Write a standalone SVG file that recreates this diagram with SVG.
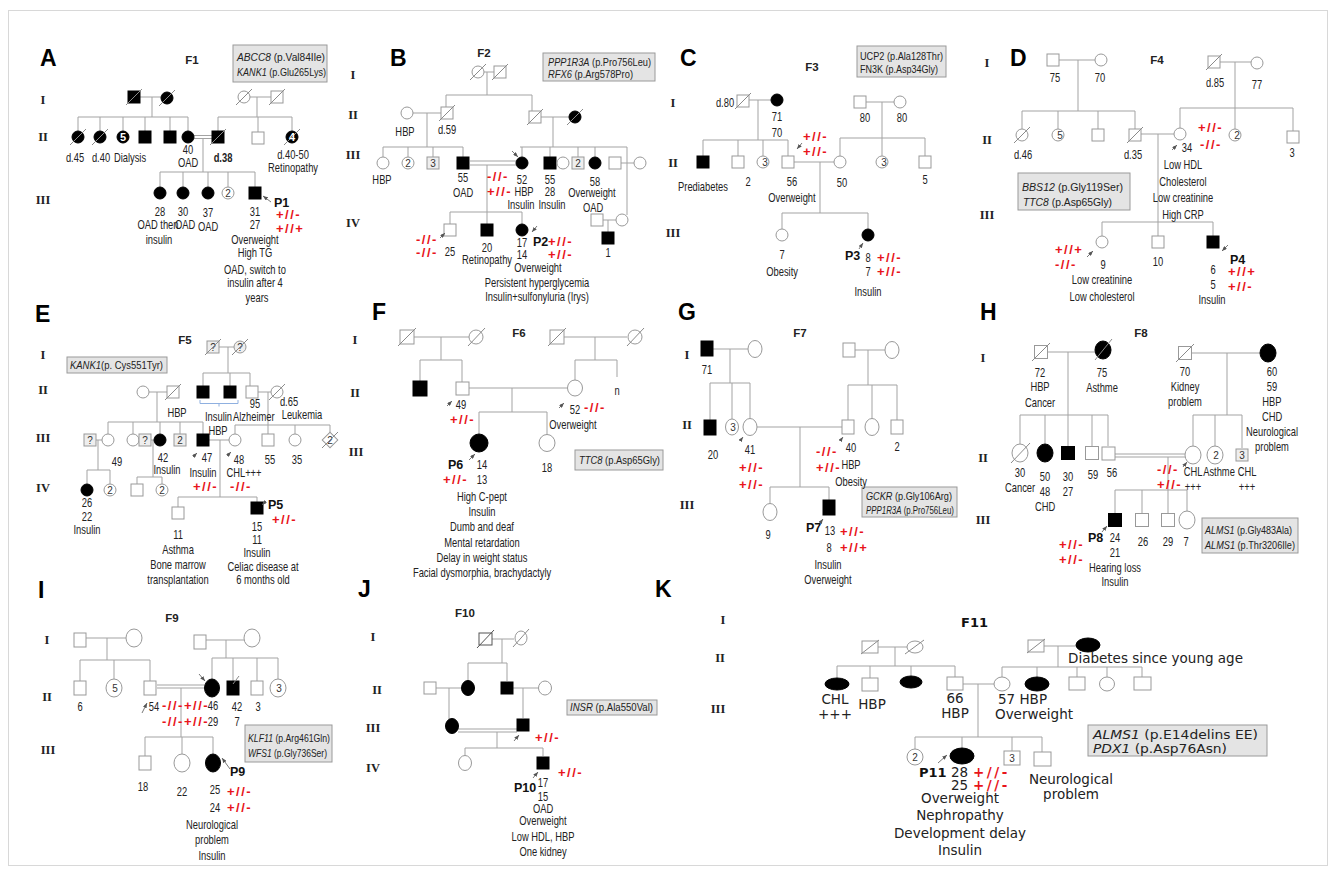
<svg xmlns="http://www.w3.org/2000/svg" width="1336" height="874" viewBox="0 0 1336 874">
<style>
.ln{stroke:#a3a3a3;stroke-width:1;fill:none}
.u{fill:#fff;stroke:#999;stroke-width:1}
.g{fill:#eee;stroke:#999;stroke-width:1}
.a{fill:#000;stroke:#000;stroke-width:1}
.d{stroke:#8a8a8a;stroke-width:1}
.t{font-family:"Liberation Sans",Arial,sans-serif;font-size:12px;fill:#222;text-anchor:middle;transform-box:fill-box;transform-origin:center;transform:scaleX(0.78)}
.ts{font-family:"Liberation Sans",Arial,sans-serif;font-size:12px;fill:#222;transform-box:fill-box;transform-origin:left center;transform:scaleX(0.78)}
.n{font-family:"Liberation Sans",Arial,sans-serif;font-size:10px;fill:#333;text-anchor:middle}
.nw{font-family:"Liberation Sans",Arial,sans-serif;font-size:11px;font-weight:bold;fill:#fff;text-anchor:middle}
.r{font-family:"Liberation Sans",Arial,sans-serif;font-size:13px;font-weight:bold;fill:#e8141a;letter-spacing:1.5px}
.p{font-family:"Liberation Sans",Arial,sans-serif;font-size:12.5px;font-weight:bold;fill:#111}
.gen{font-family:"Liberation Serif","Times New Roman",serif;font-weight:bold;font-size:12.5px;fill:#222;text-anchor:middle}
.pl{font-family:"Liberation Sans",Arial,sans-serif;font-weight:bold;font-size:23px;fill:#000}
.f{font-family:"Liberation Sans",Arial,sans-serif;font-weight:bold;font-size:11.5px;fill:#222;text-anchor:middle}
.box{fill:#e4e4e4;stroke:#9a9a9a;stroke-width:1}
.bt{font-family:"Liberation Sans",Arial,sans-serif;font-size:11px;fill:#222}
.it{font-style:italic}
.pa{stroke:#555;stroke-width:0.8;fill:none;marker-end:url(#ah)}
.tk{font-family:"DejaVu Sans",Verdana,sans-serif;font-size:13.5px;fill:#222}
.tkb{font-family:"DejaVu Sans",Verdana,sans-serif;font-size:12.5px;fill:#222}
.tkm{font-family:"DejaVu Sans",Verdana,sans-serif;font-size:13.5px;fill:#222;text-anchor:middle}
.rk{font-family:"DejaVu Sans",Verdana,sans-serif;font-size:13.5px;font-weight:bold;fill:#e8141a;letter-spacing:2.5px}
.pk{font-family:"DejaVu Sans",Verdana,sans-serif;font-size:13px;font-weight:bold;fill:#111}
</style>
<defs>
<marker id="ah" markerUnits="userSpaceOnUse" markerWidth="5" markerHeight="4" refX="5" refY="2" orient="auto"><path d="M0,0L5,2L0,4z" fill="#555"/></marker>
<rect id="sq" x="-6" y="-6" width="12" height="12"/>
<circle id="ci" r="6"/>
<line id="sl" x1="-8" y1="8" x2="8" y2="-8"/>
</defs>
<rect x="8.5" y="10.5" width="1319" height="855" fill="#fff" stroke="#d8d8d8"/>

<g id="connectors" class="ln">
<path id="A-links" d="M140 97H161M152 97V117M78 117H188M78 117V131M100 117V131M123 117V131M145 117V131M170 117V131M188 117V131M194 135.5H212M194 138.5H212M250 97H271M257 97V117M218 117H292M218 117V131M258 117V132M292 117V131M203 138V172M160 172H255M160 172V187M183 172V187M208 172V187M228 172V187M255 172V187"/>
<path id="B-links" d="M484 72H494M487 72V95M446 95H532M446 95V107M532 95V111M413 113H441M427 113V147M383 147H463M383 147V157M408 147V157M433 147V157M463 147V157M541 117H569M553 117V147M520 147H627M522 147V157M550 147V157M578 147V157M595 147V157M627 147V215M621 163H634M470 161H516M470 165H516M487 165V212M450 212H522M450 212V224M487 212V224M522 212V224M603 220H616M608 220V232"/>
<path id="C-links" d="M749 100H771M758 100V140M703 140H788M703 140V156M738 140V156M763 140V156M788 140V156M794 162H834M866 102H894M882 102V138M840 138H925M840 138V156M882 138V156M925 138V156M820 162V213M782 213H868M782 213V229M868 213V229"/>
<path id="D-links" d="M1059 60H1095M1078 60V111M1022 111H1135M1022 111V129M1058 111V129M1098 111V129M1135 111V129M1141 134H1174M1220 62H1251M1235 62V108M1180 108H1293M1180 108V128M1235 108V129M1293 108V131M1158 134V222M1102 222H1213M1102 222V236M1158 222V236M1213 222V236"/>
<path id="E-links" d="M219 347H234M228 347V373M203 373H250M203 373V386M230 373V386M250 373V386M149 392H167M157 392V422M108 422H203M108 422V434M133 422V434M160 422V434M180 422V434M203 422V434M256 392H271M268 392V425M235 425H330M235 425V434M268 425V434M295 425V434M330 425V432M96 440H102M98 440V470M87 470H110M87 470V484M110 470V484M151 440H154M153 440V477M137 477H162M137 477V484M162 477V484M209 440H229M220 440V497M178 497H257M178 497V507M257 497V502"/>
<path id="E-bracket" d="M200 400v3.5h38V400M219 403.5v3" stroke="#8fb0e0"/>
<path id="F-links" d="M414 337H469M441 337V360M420 360H462M420 360V381M462 360V382M563 337H627M595 337V360M575 360H617M575 360V380M617 360V377M469 388H567M512 388V412M479 412H547M479 412V434M547 412V435"/>
<path id="G-links" d="M713 349H748M730 349V383M710 383H750M710 383V420M732 383V419M750 383V419M855 350H885M868 350V385M848 385H897M848 385V420M872 385V419M897 385V420M757 427H842M800 427V487M770 487H829M770 487V504M829 487V500"/>
<path id="H-links" d="M1048 352H1095M1068 352V415M1020 415H1108M1020 415V445M1045 415V445M1068 415V446M1092 415V446M1108 415V446M1192 353H1260M1227 353V415M1193 415H1242M1193 415V447M1215 415V447M1242 415V448M1115 454H1185M1115 457H1185M1168 457V490M1115 490H1187M1115 490V513M1142 490V513M1168 490V513M1187 490V512"/>
<path id="I-links" d="M86 638H126M107 638V660M80 660H150M80 660V681M114 660V679M150 660V681M206 640H244M226 640V658M212 658H278M212 658V679M233 658V681M257 658V681M278 658V679M157 685H204M157 688H204M181 688V737M145 737H213M145 737V756M182 737V754M213 737V754"/>
<path id="J-links" d="M492 639H514M502 639V663M468 663H507M468 663V681M507 663V681M436 688H461M449 688V719M513 688H538M523 688V718M458 729H517M458 732H517M497 732V748M465 748H543M465 748V756M543 748V756"/>
<path id="K-links" d="M878 647H907M895 647V666M837 666H955M837 666V678M870 666V678M911 666V676M955 666V677M963 684H994M978 684V737M915 737H1042M915 737V749M962 737V748M1012 737V751M1042 737V752M1044 646H1076M1058 646V667M1002 667H1142M1002 667V677M1037 667V677M1077 667V677M1107 667V677M1142 667V677"/>
</g>

<g id="panel-A">
<text class="pl" x="40" y="66">A</text>
<text class="f" x="192" y="64">F1</text>
<g id="A-genes"><rect class="box" x="233" y="45" width="94" height="37"/><text class="bt" x="237" y="61" textLength="88" lengthAdjust="spacingAndGlyphs"><tspan class="it">ABCC8</tspan> (p.Val84Ile)</text><text class="bt" x="237" y="76" textLength="89" lengthAdjust="spacingAndGlyphs"><tspan class="it">KANK1</tspan> (p.Glu265Lys)</text></g>
<text class="gen" x="43" y="104">I</text><text class="gen" x="43" y="141">II</text><text class="gen" x="43" y="204">III</text>
<g id="A-I1"><use href="#sq" x="134" y="97" class="a"/><use href="#sl" x="134" y="97" class="d"/></g>
<g id="A-I2"><use href="#ci" x="167" y="98" class="a"/><use href="#sl" x="167" y="98" class="d"/></g>
<g id="A-I3"><use href="#ci" x="244" y="97" class="u"/><use href="#sl" x="244" y="97" class="d"/></g>
<g id="A-I4"><use href="#sq" x="277" y="97" class="u"/><use href="#sl" x="277" y="97" class="d"/></g>
<g id="A-II1"><use href="#ci" x="78" y="137" class="a"/><use href="#sl" x="78" y="137" class="d"/><text class="t" x="75" y="162">d.45</text></g>
<g id="A-II2"><use href="#ci" x="100" y="137" class="a"/><use href="#sl" x="100" y="137" class="d"/><text class="t" x="101" y="162">d.40</text></g>
<g id="A-II3"><use href="#ci" x="123" y="137" class="a"/><text class="nw" x="123" y="141">5</text><text class="t" x="130" y="162">Dialysis</text></g>
<g id="A-II4"><use href="#sq" x="145" y="137" class="a"/></g>
<g id="A-II5"><use href="#sq" x="170" y="137" class="a"/></g>
<g id="A-II6"><use href="#ci" x="188" y="137" class="a"/><text class="t" x="188" y="154">40</text><text class="t" x="188" y="167">OAD</text></g>
<g id="A-II7"><use href="#sq" x="218" y="137" class="a"/><use href="#sl" x="218" y="137" class="d"/><text class="t" x="223" y="162" font-weight="bold">d.38</text></g>
<g id="A-II8"><use href="#sq" x="258" y="138" class="u"/></g>
<g id="A-II9"><use href="#ci" x="292" y="137" class="a"/><use href="#sl" x="292" y="137" class="d"/><text class="nw" x="292" y="141">4</text><text class="t" x="293" y="159">d.40-50</text><text class="t" x="293" y="172">Retinopathy</text></g>
<g id="A-III1"><use href="#ci" x="160" y="193" class="a"/><text class="t" x="160" y="216">28</text><text class="t" x="158" y="229">OAD then</text><text class="t" x="159" y="244">insulin</text></g>
<g id="A-III2"><use href="#ci" x="183" y="193" class="a"/><text class="t" x="183" y="216">30</text><text class="t" x="185" y="229">OAD</text></g>
<g id="A-III3"><use href="#ci" x="208" y="193" class="a"/><text class="t" x="208" y="217">37</text><text class="t" x="208" y="231">OAD</text></g>
<g id="A-III4"><use href="#ci" x="228" y="193" class="u"/><text class="n" x="228" y="197">2</text></g>
<g id="A-P1"><use href="#sq" x="255" y="193" class="a"/><line class="pa" x1="271" y1="202" x2="263" y2="196"/><text class="p" x="274" y="207">P1</text><text class="r" x="276" y="219">+//-</text><text class="r" x="276" y="233">+//+</text><text class="t" x="255" y="216">31</text><text class="t" x="255" y="229">27</text><text class="t" x="255" y="244">Overweight</text><text class="t" x="255" y="257">High TG</text><text class="t" x="255" y="274">OAD, switch to</text><text class="t" x="255" y="287">insulin after 4</text><text class="t" x="257" y="302">years</text></g>
</g>

<g id="panel-B">
<text class="pl" x="390" y="66">B</text>
<text class="f" x="484" y="57">F2</text>
<g id="B-genes"><rect class="box" x="543" y="53" width="112" height="28"/><text class="bt" x="548" y="66" textLength="103" lengthAdjust="spacingAndGlyphs"><tspan class="it">PPP1R3A</tspan> (p.Pro756Leu)</text><text class="bt" x="548" y="78" textLength="85" lengthAdjust="spacingAndGlyphs"><tspan class="it">RFX6</tspan> (p.Arg578Pro)</text></g>
<text class="gen" x="353" y="79">I</text><text class="gen" x="353" y="119">II</text><text class="gen" x="353" y="159">III</text><text class="gen" x="353" y="227">IV</text>
<g id="B-I1"><use href="#ci" x="478" y="72" class="u"/><use href="#sl" x="478" y="72" class="d"/></g>
<g id="B-I2"><use href="#sq" x="500" y="72" class="u"/><use href="#sl" x="500" y="72" class="d"/></g>
<g id="B-II1"><use href="#ci" x="407" y="113" class="u"/><text class="t" x="405" y="136">HBP</text></g>
<g id="B-II2"><use href="#sq" x="447" y="113" class="u"/><use href="#sl" x="447" y="113" class="d"/><text class="t" x="447" y="134">d.59</text></g>
<g id="B-II3"><use href="#sq" x="535" y="117" class="u"/><use href="#sl" x="535" y="117" class="d"/></g>
<g id="B-II4"><use href="#ci" x="575" y="117" class="a"/><use href="#sl" x="575" y="117" class="d"/></g>
<g id="B-III1"><use href="#ci" x="383" y="163" class="u"/><text class="t" x="382" y="184">HBP</text></g>
<g id="B-III2"><use href="#ci" x="408" y="163" class="u"/><text class="n" x="408" y="167">2</text></g>
<g id="B-III3"><use href="#sq" x="433" y="163" class="g"/><text class="n" x="433" y="167">3</text></g>
<g id="B-III4"><use href="#sq" x="463" y="163" class="a"/><text class="t" x="463" y="182">55</text><text class="t" x="463" y="197">OAD</text></g>
<g id="B-III5"><use href="#ci" x="522" y="163" class="a"/><line class="pa" x1="512" y1="151" x2="518" y2="157"/><text class="t" x="522" y="184">52</text><text class="t" x="524" y="196">HBP</text><text class="t" x="521" y="209">Insulin</text><text class="r" x="487" y="181">-//-</text><text class="r" x="487" y="196">+//-</text></g>
<g id="B-III6"><use href="#sq" x="550" y="163" class="a"/><text class="t" x="550" y="184">55</text><text class="t" x="550" y="196">28</text><text class="t" x="552" y="209">Insulin</text></g>
<g id="B-III7"><use href="#ci" x="563" y="163" class="u"/></g>
<g id="B-III8"><use href="#sq" x="578" y="163" class="g"/><text class="n" x="578" y="167">2</text></g>
<g id="B-III9"><use href="#ci" x="595" y="163" class="a"/><text class="t" x="595" y="186">58</text><text class="t" x="592" y="197">Overweight</text><text class="t" x="593" y="212">OAD</text></g>
<g id="B-III10"><use href="#sq" x="615" y="163" class="u"/></g>
<g id="B-III11"><use href="#ci" x="640" y="163" class="u"/></g>
<g id="B-IV1"><use href="#sq" x="450" y="230" class="u"/><line class="pa" x1="440" y1="238" x2="445" y2="233"/><text class="r" x="416" y="244">-//-</text><text class="r" x="416" y="257">-//-</text><text class="t" x="450" y="256">25</text></g>
<g id="B-IV2"><use href="#sq" x="487" y="230" class="a"/><text class="t" x="487" y="252">20</text><text class="t" x="487" y="264">Retinopathy</text></g>
<g id="B-P2"><use href="#ci" x="522" y="230" class="a"/><line class="pa" x1="537" y1="226" x2="532" y2="232"/><text class="p" x="533" y="246">P2</text><text class="r" x="548" y="246">+//-</text><text class="r" x="548" y="259">+//-</text><text class="t" x="522" y="247">17</text><text class="t" x="522" y="259">14</text><text class="t" x="538" y="272">Overweight</text><text class="t" x="537" y="287">Persistent hyperglycemia</text><text class="t" x="537" y="301">Insulin+sulfonyluria (Irys)</text></g>
<g id="B-IV3"><use href="#sq" x="597" y="220" class="u"/></g>
<g id="B-IV4"><use href="#ci" x="622" y="220" class="u"/></g>
<g id="B-V1"><use href="#sq" x="608" y="238" class="a"/><text class="t" x="608" y="257">1</text></g>
</g>

<g id="panel-C">
<text class="pl" x="680" y="66">C</text>
<text class="f" x="812" y="71">F3</text>
<g id="C-genes"><rect class="box" x="857" y="46" width="89" height="31"/><text class="bt" x="860" y="60" textLength="83" lengthAdjust="spacingAndGlyphs">UCP2 (p.Ala128Thr)</text><text class="bt" x="860" y="73" textLength="78" lengthAdjust="spacingAndGlyphs">FN3K (p.Asp34Gly)</text></g>
<text class="gen" x="673" y="107">I</text><text class="gen" x="673" y="167">II</text><text class="gen" x="673" y="237">III</text>
<g id="C-I1"><use href="#sq" x="743" y="101" class="u"/><use href="#sl" x="743" y="101" class="d"/><text class="t" x="725" y="107">d.80</text></g>
<g id="C-I2"><use href="#ci" x="777" y="100" class="a"/><text class="t" x="777" y="121">71</text><text class="t" x="777" y="137">70</text></g>
<g id="C-I3"><use href="#sq" x="860" y="102" class="u"/><text class="t" x="865" y="122">80</text></g>
<g id="C-I4"><use href="#ci" x="900" y="102" class="u"/><text class="t" x="902" y="122">80</text></g>
<g id="C-II1"><use href="#sq" x="703" y="162" class="a"/><text class="t" x="703" y="191">Prediabetes</text></g>
<g id="C-II2"><use href="#sq" x="738" y="162" class="u"/><text class="t" x="748" y="186">2</text></g>
<g id="C-II3"><use href="#ci" x="763" y="162" class="u"/><text class="n" x="765" y="166">3</text></g>
<g id="C-II4"><use href="#sq" x="788" y="162" class="u"/><line class="pa" x1="802" y1="143" x2="797" y2="149"/><text class="r" x="803" y="141">+//-</text><text class="r" x="803" y="156">+//-</text><text class="t" x="792" y="186">56</text><text class="t" x="792" y="202">Overweight</text></g>
<g id="C-II5"><use href="#ci" x="840" y="162" class="u"/><text class="t" x="842" y="187">50</text></g>
<g id="C-II6"><use href="#ci" x="882" y="162" class="u"/><text class="n" x="884" y="166">3</text></g>
<g id="C-II7"><use href="#sq" x="925" y="162" class="u"/><text class="t" x="925" y="184">5</text></g>
<g id="C-III1"><use href="#ci" x="782" y="235" class="u"/><text class="t" x="782" y="259">7</text><text class="t" x="782" y="276">Obesity</text></g>
<g id="C-P3"><use href="#ci" x="868" y="235" class="a"/><line class="pa" x1="859" y1="249" x2="863" y2="243"/><text class="p" x="845" y="260">P3</text><text class="t" x="868" y="262">8</text><text class="r" x="877" y="262">+//-</text><text class="t" x="868" y="276">7</text><text class="r" x="877" y="276">+//-</text><text class="t" x="868" y="296">Insulin</text></g>
</g>

<g id="panel-D">
<text class="pl" x="1010" y="66">D</text>
<text class="f" x="1157" y="64">F4</text>
<g id="D-genes"><rect class="box" x="1018" y="173" width="112" height="37"/><text class="bt" x="1022" y="191" textLength="101" lengthAdjust="spacingAndGlyphs"><tspan class="it">BBS12</tspan> (p.Gly119Ser)</text><text class="bt" x="1023" y="206" textLength="89" lengthAdjust="spacingAndGlyphs"><tspan class="it">TTC8</tspan> (p.Asp65Gly)</text></g>
<text class="gen" x="987" y="67">I</text><text class="gen" x="987" y="144">II</text><text class="gen" x="987" y="219">III</text>
<g id="D-I1"><use href="#sq" x="1053" y="60" class="u"/><text class="t" x="1055" y="82">75</text></g>
<g id="D-I2"><use href="#ci" x="1101" y="60" class="u"/><text class="t" x="1100" y="82">70</text></g>
<g id="D-I3"><use href="#sq" x="1214" y="62" class="u"/><use href="#sl" x="1214" y="62" class="d"/><text class="t" x="1215" y="87">d.85</text></g>
<g id="D-I4"><use href="#ci" x="1257" y="63" class="u"/><text class="t" x="1257" y="89">77</text></g>
<g id="D-II1"><use href="#ci" x="1022" y="135" class="u"/><use href="#sl" x="1022" y="135" class="d"/><text class="t" x="1023" y="159">d.46</text></g>
<g id="D-II2"><use href="#ci" x="1058" y="135" class="u"/><text class="n" x="1060" y="139">5</text></g>
<g id="D-II3"><use href="#sq" x="1098" y="135" class="u"/></g>
<g id="D-II4"><use href="#sq" x="1135" y="135" class="u"/><use href="#sl" x="1135" y="135" class="d"/><text class="t" x="1133" y="159">d.35</text></g>
<g id="D-II5"><use href="#ci" x="1180" y="134" class="u"/><line class="pa" x1="1172" y1="150" x2="1177" y2="145"/><text class="t" x="1187" y="152">34</text><text class="t" x="1183" y="169">Low HDL</text><text class="t" x="1183" y="186">Cholesterol</text><text class="t" x="1183" y="202">Low creatinine</text><text class="t" x="1183" y="219">High CRP</text></g>
<g id="D-II6"><use href="#ci" x="1235" y="135" class="u"/><text class="n" x="1237" y="139">2</text><text class="r" x="1198" y="132">+//-</text><text class="r" x="1200" y="149">-//-</text></g>
<g id="D-II7"><use href="#sq" x="1293" y="137" class="u"/><text class="t" x="1292" y="157">3</text></g>
<g id="D-III1"><use href="#ci" x="1102" y="242" class="u"/><line class="pa" x1="1087" y1="257" x2="1093" y2="251"/><text class="r" x="1055" y="254">+//+</text><text class="r" x="1055" y="269">-//-</text><text class="t" x="1103" y="269">9</text><text class="t" x="1102" y="284">Low creatinine</text><text class="t" x="1102" y="301">Low cholesterol</text></g>
<g id="D-III2"><use href="#sq" x="1158" y="242" class="u"/><text class="t" x="1158" y="266">10</text></g>
<g id="D-P4"><use href="#sq" x="1213" y="242" class="a"/><line class="pa" x1="1228" y1="245" x2="1222" y2="251"/><text class="p" x="1230" y="264">P4</text><text class="t" x="1213" y="274">6</text><text class="r" x="1228" y="276">+//+</text><text class="t" x="1213" y="289">5</text><text class="r" x="1228" y="291">+//-</text><text class="t" x="1212" y="304">Insulin</text></g>
</g>

<g id="panel-E">
<text class="pl" x="35" y="322">E</text>
<text class="f" x="185" y="344">F5</text>
<g id="E-genes"><rect class="box" x="67" y="357" width="100" height="16"/><text class="bt" x="70" y="369" textLength="93" lengthAdjust="spacingAndGlyphs"><tspan class="it">KANK1</tspan>(p. Cys551Tyr)</text></g>
<text class="gen" x="43" y="359">I</text><text class="gen" x="43" y="394">II</text><text class="gen" x="43" y="442">III</text><text class="gen" x="43" y="492">IV</text>
<g id="E-I1"><use href="#sq" x="213" y="347" class="g"/><text class="n" x="213" y="351">?</text><use href="#sl" x="213" y="347" class="d"/></g>
<g id="E-I2"><use href="#ci" x="240" y="347" class="g"/><text class="n" x="240" y="351">?</text><use href="#sl" x="240" y="347" class="d"/></g>
<g id="E-II1"><use href="#ci" x="143" y="392" class="u"/></g>
<g id="E-II2"><use href="#sq" x="173" y="392" class="u"/><use href="#sl" x="173" y="392" class="d"/><text class="t" x="177" y="417">HBP</text></g>
<g id="E-II3"><use href="#sq" x="203" y="392" class="a"/></g>
<g id="E-II4"><use href="#sq" x="230" y="392" class="a"/><text class="ts" x="205" y="421">Insulin</text></g>
<g id="E-II5"><use href="#sq" x="252" y="392" class="u"/><text class="t" x="255" y="408">95</text><text class="ts" x="233" y="421">Alzheimer</text></g>
<g id="E-II6"><use href="#ci" x="277" y="392" class="u"/><use href="#sl" x="277" y="392" class="d"/><text class="t" x="289" y="406">d.65</text><text class="t" x="302" y="419">Leukemia</text></g>
<g id="E-III1"><use href="#sq" x="90" y="440" class="g"/><text class="n" x="90" y="444">?</text></g>
<g id="E-III2"><use href="#ci" x="108" y="440" class="u"/><text class="t" x="117" y="466">49</text></g>
<g id="E-III3"><use href="#ci" x="133" y="440" class="u"/></g>
<g id="E-III4"><use href="#sq" x="145" y="440" class="g"/><text class="n" x="145" y="444">?</text></g>
<g id="E-III5"><use href="#ci" x="160" y="440" class="a"/><text class="t" x="163" y="462">42</text><text class="t" x="167" y="474">Insulin</text></g>
<g id="E-III6"><use href="#sq" x="180" y="440" class="g"/><text class="n" x="180" y="444">2</text></g>
<g id="E-III7"><use href="#sq" x="203" y="440" class="a"/><line class="pa" x1="193" y1="457" x2="197" y2="453"/><text class="t" x="207" y="462">47</text><text class="t" x="203" y="477">Insulin</text><text class="r" x="193" y="491">+//-</text><text class="t" x="218" y="435">HBP</text></g>
<g id="E-III8"><use href="#ci" x="235" y="440" class="u"/><line class="pa" x1="227" y1="456" x2="231" y2="452"/><text class="t" x="239" y="464">48</text><text class="t" x="244" y="477">CHL+++</text><text class="r" x="230" y="491">-//-</text></g>
<g id="E-III9"><use href="#sq" x="268" y="440" class="u"/><text class="t" x="270" y="464">55</text></g>
<g id="E-III10"><use href="#ci" x="295" y="440" class="u"/><text class="t" x="297" y="464">35</text></g>
<g id="E-III11"><rect x="-5.5" y="-5.5" width="11" height="11" class="u" transform="translate(330 440) rotate(45)"/><text class="n" x="330" y="444">2</text><use href="#sl" x="330" y="440" class="d"/></g>
<g id="E-IV1"><use href="#ci" x="87" y="490" class="a"/><text class="t" x="87" y="507">26</text><text class="t" x="87" y="521">22</text><text class="t" x="87" y="534">Insulin</text></g>
<g id="E-IV2"><use href="#ci" x="110" y="490" class="u"/><text class="n" x="110" y="494">2</text></g>
<g id="E-IV3"><use href="#sq" x="137" y="490" class="u"/></g>
<g id="E-IV4"><use href="#ci" x="162" y="490" class="u"/><text class="n" x="162" y="494">2</text></g>
<g id="E-IV5"><use href="#sq" x="178" y="513" class="u"/><text class="t" x="178" y="539">11</text><text class="t" x="178" y="554">Asthma</text><text class="t" x="178" y="569">Bone marrow</text><text class="t" x="178" y="584">transplantation</text></g>
<g id="E-P5"><use href="#sq" x="257" y="508" class="a"/><line class="pa" x1="266" y1="501" x2="262" y2="505"/><text class="p" x="268" y="509">P5</text><text class="r" x="272" y="524">+//-</text><text class="t" x="257" y="531">15</text><text class="t" x="257" y="544">11</text><text class="t" x="257" y="557">Insulin</text><text class="t" x="263" y="571">Celiac disease at</text><text class="t" x="263" y="584">6 months old</text></g>
</g>

<g id="panel-F">
<text class="pl" x="372" y="320">F</text>
<text class="f" x="519" y="337">F6</text>
<g id="F-genes"><rect class="box" x="575" y="450" width="88" height="20"/><text class="bt" x="579" y="464" textLength="81" lengthAdjust="spacingAndGlyphs"><tspan class="it">TTC8</tspan> (p.Asp65Gly)</text></g>
<text class="gen" x="355" y="344">I</text><text class="gen" x="355" y="397">II</text><text class="gen" x="356" y="456">III</text>
<g id="F-I1"><rect x="400" y="330" width="14" height="14" class="u"/><line x1="398" y1="346" x2="416" y2="328" class="d"/></g>
<g id="F-I2"><circle cx="476" cy="337" r="7" class="u"/><line x1="468" y1="346" x2="485" y2="328" class="d"/></g>
<g id="F-I3"><rect x="550" y="330" width="14" height="14" class="u"/><line x1="548" y1="346" x2="566" y2="328" class="d"/></g>
<g id="F-I4"><circle cx="635" cy="337" r="7" class="u"/><line x1="627" y1="346" x2="644" y2="328" class="d"/></g>
<g id="F-II1"><rect x="413" y="381" width="14" height="15" class="a"/></g>
<g id="F-II2"><rect x="456" y="382" width="13" height="13" class="u"/><line class="pa" x1="447" y1="406" x2="452" y2="401"/><text class="t" x="461" y="409">49</text><text class="r" x="450" y="424">+//-</text></g>
<g id="F-II3"><ellipse cx="575" cy="388" rx="7.5" ry="8" class="u"/><line class="pa" x1="559" y1="408" x2="564" y2="403"/><text class="t" x="575" y="414">52</text><text class="r" x="584" y="412">-//-</text><text class="t" x="573" y="429">Overweight</text></g>
<g id="F-II4"><text class="t" x="617" y="395">n</text></g>
<g id="F-P6"><circle cx="479" cy="443" r="9" class="a"/><line class="pa" x1="469" y1="460" x2="475" y2="454"/><text class="p" x="448" y="469">P6</text><text class="t" x="482" y="469">14</text><text class="r" x="443" y="484">+//-</text><text class="t" x="482" y="484">13</text><text class="t" x="482" y="501">High C-pept</text><text class="t" x="482" y="516">Insulin</text><text class="t" x="482" y="531">Dumb and deaf</text><text class="t" x="482" y="547">Mental retardation</text><text class="t" x="482" y="562">Delay in weight status</text><text class="t" x="482" y="577">Facial dysmorphia, brachydactyly</text></g>
<g id="F-III2"><ellipse cx="547" cy="443" rx="8" ry="8.5" class="u"/><text class="t" x="547" y="472">18</text></g>
</g>

<g id="panel-G">
<text class="pl" x="678" y="320">G</text>
<text class="f" x="800" y="337">F7</text>
<g id="G-genes"><rect class="box" x="862" y="487" width="95" height="30"/><text class="bt" x="866" y="500" textLength="86" lengthAdjust="spacingAndGlyphs"><tspan class="it">GCKR</tspan> (p.Gly106Arg)</text><text class="bt" x="866" y="514" textLength="88" lengthAdjust="spacingAndGlyphs"><tspan class="it">PPP1R3A</tspan> (p.Pro756Leu)</text></g>
<text class="gen" x="687" y="359">I</text><text class="gen" x="687" y="429">II</text><text class="gen" x="687" y="509">III</text>
<g id="G-I1"><rect x="701" y="341" width="12" height="15" class="a"/><text class="t" x="707" y="374">71</text></g>
<g id="G-I2"><ellipse cx="755" cy="349" rx="7" ry="8.5" class="u"/></g>
<g id="G-I3"><rect x="843" y="343" width="12" height="14" class="u"/></g>
<g id="G-I4"><ellipse cx="892" cy="350" rx="7" ry="8.5" class="u"/></g>
<g id="G-II1"><rect x="704" y="420" width="12" height="15" class="a"/><text class="t" x="713" y="459">20</text></g>
<g id="G-II2"><ellipse cx="732" cy="427" rx="6.5" ry="8" class="u"/><text class="n" x="733" y="431">3</text></g>
<g id="G-II3"><ellipse cx="750" cy="427" rx="7" ry="8.5" class="u"/><line class="pa" x1="740" y1="441" x2="743" y2="437"/><text class="t" x="750" y="454">41</text><text class="r" x="739" y="472">+//-</text><text class="r" x="739" y="489">+//-</text></g>
<g id="G-II4"><rect x="842" y="420" width="12" height="14" class="u"/><line class="pa" x1="840" y1="441" x2="843" y2="437"/><text class="t" x="851" y="452">40</text><text class="t" x="851" y="469">HBP</text><text class="t" x="851" y="486">Obesity</text><text class="r" x="816" y="456">-//-</text><text class="r" x="816" y="472">+//-</text></g>
<g id="G-II5"><ellipse cx="872" cy="427" rx="7" ry="8.5" class="u"/></g>
<g id="G-II6"><rect x="891" y="420" width="12" height="14" class="u"/><text class="t" x="897" y="451">2</text></g>
<g id="G-III1"><ellipse cx="770" cy="512" rx="7" ry="8.5" class="u"/><text class="t" x="768" y="539">9</text></g>
<g id="G-P7"><rect x="823" y="500" width="12" height="15" class="a"/><line class="pa" x1="820" y1="523" x2="823" y2="519"/><text class="p" x="806" y="532">P7</text><text class="t" x="830" y="535">13</text><text class="r" x="840" y="536">+//-</text><text class="t" x="829" y="552">8</text><text class="r" x="840" y="552">+//+</text><text class="t" x="828" y="569">Insulin</text><text class="t" x="828" y="584">Overweight</text></g>
</g>

<g id="panel-H">
<text class="pl" x="980" y="320">H</text>
<text class="f" x="1141" y="337">F8</text>
<g id="H-genes"><rect class="box" x="1202" y="518" width="96" height="35"/><text class="bt" x="1205" y="534" textLength="87" lengthAdjust="spacingAndGlyphs"><tspan class="it">ALMS1</tspan> (p.Gly483Ala)</text><text class="bt" x="1205" y="549" textLength="90" lengthAdjust="spacingAndGlyphs"><tspan class="it">ALMS1</tspan> (p.Thr3206Ile)</text></g>
<text class="gen" x="983" y="362">I</text><text class="gen" x="983" y="462">II</text><text class="gen" x="983" y="524">III</text>
<g id="H-I1"><rect x="1034.5" y="345.5" width="13" height="13" class="u"/><line x1="1032" y1="361" x2="1050" y2="343" class="d"/><text class="t" x="1040" y="377">72</text><text class="t" x="1040" y="391">HBP</text><text class="t" x="1040" y="407">Cancer</text></g>
<g id="H-I2"><ellipse cx="1103" cy="350" rx="8" ry="9" class="a"/><line x1="1095" y1="360" x2="1112" y2="339" class="d"/><text class="t" x="1102" y="377">75</text><text class="t" x="1102" y="392">Asthme</text></g>
<g id="H-I3"><rect x="1178.5" y="346.5" width="13" height="13" class="u"/><line x1="1176" y1="362" x2="1194" y2="344" class="d"/><text class="t" x="1185" y="376">70</text><text class="t" x="1185" y="391">Kidney</text><text class="t" x="1185" y="406">problem</text></g>
<g id="H-I4"><ellipse cx="1268" cy="353" rx="8" ry="9" class="a"/><text class="t" x="1272" y="376">60</text><text class="t" x="1272" y="391">59</text><text class="t" x="1272" y="406">HBP</text><text class="t" x="1272" y="421">CHD</text><text class="t" x="1272" y="436">Neurological</text><text class="t" x="1272" y="451">problem</text></g>
<g id="H-II1"><ellipse cx="1020" cy="453" rx="8" ry="9" class="u"/><line x1="1011" y1="463" x2="1030" y2="443" class="d"/><text class="t" x="1020" y="477">30</text><text class="t" x="1020" y="492">Cancer</text></g>
<g id="H-II2"><ellipse cx="1045" cy="453" rx="8" ry="9" class="a"/><text class="t" x="1045" y="481">50</text><text class="t" x="1045" y="496">48</text><text class="t" x="1045" y="511">CHD</text></g>
<g id="H-II3"><rect x="1061.5" y="446.5" width="13" height="13" class="a"/><text class="t" x="1068" y="481">30</text><text class="t" x="1068" y="496">27</text></g>
<g id="H-II4"><rect x="1085.5" y="446.5" width="13" height="13" class="u"/><text class="t" x="1093" y="479">59</text></g>
<g id="H-II5"><rect x="1102" y="447" width="13" height="13" class="u"/><text class="t" x="1112" y="477">56</text></g>
<g id="H-II6"><ellipse cx="1193" cy="455" rx="8" ry="9" class="u"/><line class="pa" x1="1183" y1="467" x2="1187" y2="462"/><text class="t" x="1193" y="476">CHL</text><text class="t" x="1193" y="491">+++</text><text class="r" x="1157" y="474">-//-</text><text class="r" x="1157" y="489">+//-</text></g>
<g id="H-II7"><ellipse cx="1215" cy="455" rx="8" ry="9" class="u"/><text class="n" x="1216" y="459">2</text><text class="t" x="1219" y="476">Asthme</text></g>
<g id="H-II8"><rect x="1236" y="449" width="12" height="12" class="g"/><text class="n" x="1242" y="459">3</text><text class="t" x="1247" y="476">CHL</text><text class="t" x="1247" y="491">+++</text></g>
<g id="H-P8"><rect x="1108.5" y="513.5" width="13" height="13" class="a"/><line class="pa" x1="1102" y1="532" x2="1107" y2="526"/><text class="p" x="1088" y="542">P8</text><text class="t" x="1115" y="542">24</text><text class="t" x="1115" y="557">21</text><text class="t" x="1115" y="572">Hearing loss</text><text class="t" x="1115" y="586">Insulin</text><text class="r" x="1059" y="549">+//-</text><text class="r" x="1059" y="564">+//-</text></g>
<g id="H-III2"><rect x="1135.5" y="513.5" width="13" height="13" class="u"/><text class="t" x="1143" y="546">26</text></g>
<g id="H-III3"><rect x="1161.5" y="513.5" width="13" height="13" class="u"/><text class="t" x="1168" y="546">29</text></g>
<g id="H-III4"><ellipse cx="1187" cy="520" rx="8" ry="9" class="u"/><text class="t" x="1186" y="546">7</text></g>
</g>

<g id="panel-I">
<text class="pl" x="38" y="598">I</text>
<text class="f" x="172" y="622">F9</text>
<g id="I-genes"><rect class="box" x="245" y="725" width="87" height="37"/><text class="bt" x="248" y="742" textLength="82" lengthAdjust="spacingAndGlyphs"><tspan class="it">KLF11</tspan> (p.Arg461Gln)</text><text class="bt" x="248" y="757" textLength="79" lengthAdjust="spacingAndGlyphs"><tspan class="it">WFS1</tspan> (p.Gly736Ser)</text></g>
<text class="gen" x="47" y="644">I</text><text class="gen" x="47" y="701">II</text><text class="gen" x="48" y="754">III</text>
<g id="I-I1"><rect x="74" y="633" width="12" height="14" class="u"/></g>
<g id="I-I2"><ellipse cx="134" cy="638" rx="8" ry="9" class="u"/></g>
<g id="I-I3"><rect x="194" y="635" width="12" height="14" class="u"/></g>
<g id="I-I4"><ellipse cx="252" cy="638" rx="8" ry="9" class="u"/></g>
<g id="I-II1"><rect x="74" y="681" width="12" height="14" class="u"/><text class="t" x="80" y="711">6</text></g>
<g id="I-II2"><ellipse cx="114" cy="688" rx="8" ry="9" class="u"/><text class="n" x="115" y="692">5</text></g>
<g id="I-II3"><rect x="144" y="681" width="12" height="14" class="u"/><line class="pa" x1="142" y1="713" x2="147" y2="703"/><text class="t" x="154" y="711">54</text><text class="r" x="162" y="710">-//-</text><text class="r" x="162" y="726">-//-</text></g>
<g id="I-II4"><ellipse cx="212" cy="688" rx="7.5" ry="9" class="a"/><line class="pa" x1="199" y1="674" x2="205" y2="681"/><text class="t" x="213" y="710">46</text><text class="t" x="213" y="726">29</text><text class="r" x="184" y="710">+//-</text><text class="r" x="184" y="726">+//-</text></g>
<g id="I-II5"><rect x="227" y="681" width="12" height="14" class="a"/><line x1="233" y1="684" x2="239" y2="676" class="d"/><text class="t" x="237" y="711">42</text><text class="t" x="237" y="726">7</text></g>
<g id="I-II6"><rect x="251" y="681" width="12" height="14" class="u"/><text class="t" x="258" y="711">3</text></g>
<g id="I-II7"><ellipse cx="278" cy="688" rx="8" ry="9" class="u"/><text class="n" x="279" y="692">3</text></g>
<g id="I-III1"><rect x="139" y="756" width="12" height="14" class="u"/><text class="t" x="143" y="791">18</text></g>
<g id="I-III2"><ellipse cx="182" cy="763" rx="8" ry="9" class="u"/><text class="t" x="182" y="796">22</text></g>
<g id="I-P9"><ellipse cx="213" cy="763" rx="7.5" ry="9" class="a"/><line class="pa" x1="230" y1="769" x2="222" y2="758"/><text class="p" x="230" y="776">P9</text><text class="t" x="215" y="794">25</text><text class="r" x="227" y="796">+//-</text><text class="t" x="215" y="812">24</text><text class="r" x="227" y="812">+//-</text><text class="t" x="212" y="829">Neurological</text><text class="t" x="212" y="844">problem</text><text class="t" x="212" y="860">Insulin</text></g>
</g>

<g id="panel-J">
<text class="pl" x="358" y="597">J</text>
<text class="f" x="465" y="617">F10</text>
<g id="J-genes"><rect class="box" x="567" y="700" width="90" height="15"/><text class="bt" x="570" y="711" textLength="83" lengthAdjust="spacingAndGlyphs"><tspan class="it">INSR</tspan> (p.Ala550Val)</text></g>
<text class="gen" x="373" y="641">I</text><text class="gen" x="377" y="694">II</text><text class="gen" x="373" y="732">III</text><text class="gen" x="373" y="772">IV</text>
<g id="J-I1"><rect x="479" y="633" width="13" height="12" fill="#fff" stroke="#555"/><line x1="477" y1="648" x2="494" y2="630" stroke="#555"/></g>
<g id="J-I2"><ellipse cx="521" cy="638" rx="6" ry="7" class="u"/><line x1="513" y1="647" x2="529" y2="629" class="d"/></g>
<g id="J-II1"><use href="#sq" x="430" y="688" class="u"/></g>
<g id="J-II2"><ellipse cx="468" cy="688" rx="6.5" ry="7.5" class="a"/></g>
<g id="J-II3"><use href="#sq" x="507" y="688" class="a"/></g>
<g id="J-II4"><ellipse cx="545" cy="688" rx="6.5" ry="7" class="u"/></g>
<g id="J-III1"><ellipse cx="452" cy="726" rx="6.5" ry="7.5" class="a"/></g>
<g id="J-III2"><use href="#sq" x="523" y="725" class="a"/><line class="pa" x1="514" y1="741" x2="519" y2="735"/><text class="r" x="535" y="742">+//-</text></g>
<g id="J-IV1"><ellipse cx="465" cy="763" rx="6.5" ry="7.5" class="u"/></g>
<g id="J-P10"><use href="#sq" x="543" y="763" class="a"/><line class="pa" x1="533" y1="778" x2="538" y2="772"/><text class="p" x="514" y="792">P10</text><text class="t" x="543" y="787">17</text><text class="r" x="558" y="777">+//-</text><text class="t" x="543" y="801">15</text><text class="t" x="543" y="813">OAD</text><text class="t" x="543" y="825">Overweight</text><text class="t" x="543" y="841">Low HDL, HBP</text><text class="t" x="543" y="856">One kidney</text></g>
</g>

<g id="panel-K">
<text class="pl" x="655" y="597">K</text>
<text class="pk" x="961" y="627">F11</text>
<g id="K-genes"><rect class="box" x="1088" y="725" width="179" height="31"/><text class="tkb" x="1093" y="739" textLength="165" lengthAdjust="spacingAndGlyphs"><tspan class="it">ALMS1</tspan> (p.E14delins EE)</text><text class="tkb" x="1093" y="753" textLength="134" lengthAdjust="spacingAndGlyphs"><tspan class="it">PDX1</tspan> (p.Asp76Asn)</text></g>
<text class="gen" x="723" y="624">I</text><text class="gen" x="720" y="662">II</text><text class="gen" x="718" y="713">III</text>
<g id="K-I1"><rect x="862" y="641" width="16" height="12" class="u"/><line x1="861" y1="654" x2="879" y2="640" class="d"/></g>
<g id="K-I2"><ellipse cx="915" cy="647" rx="8" ry="6" class="u"/><line x1="905" y1="654" x2="924" y2="640" class="d"/></g>
<g id="K-I3"><rect x="1028" y="640" width="16" height="12" class="u"/><line x1="1027" y1="653" x2="1045" y2="639" class="d"/></g>
<g id="K-I4"><ellipse cx="1088" cy="645" rx="12" ry="7" class="a"/><text class="tk" x="1068" y="663">Diabetes since young age</text></g>
<g id="K-II1"><ellipse cx="837" cy="684" rx="12" ry="6" class="a"/><text class="tkm" x="835" y="704">CHL</text><text class="tkm" x="835" y="719">+++</text></g>
<g id="K-II2"><rect x="862" y="678" width="16" height="13" class="u"/><text class="tkm" x="872" y="709">HBP</text></g>
<g id="K-II3"><ellipse cx="911" cy="682" rx="11" ry="6" class="a"/></g>
<g id="K-II4"><rect x="947" y="677" width="16" height="13" class="u"/><text class="tkm" x="955" y="703">66</text><text class="tkm" x="955" y="718">HBP</text></g>
<g id="K-II5"><ellipse cx="1002" cy="684" rx="8" ry="7" class="u"/><text class="tk" x="998" y="704">57 HBP</text><text class="tk" x="995" y="719">Overweight</text></g>
<g id="K-II6"><ellipse cx="1037" cy="684" rx="12" ry="7" class="a"/></g>
<g id="K-II7"><rect x="1069" y="677" width="16" height="13" class="u"/></g>
<g id="K-II8"><ellipse cx="1107" cy="684" rx="7.5" ry="7" class="u"/></g>
<g id="K-II9"><rect x="1134" y="677" width="17" height="13" class="u"/></g>
<g id="K-III1"><circle cx="915" cy="757" r="8" class="u"/><text class="n" x="915" y="761">2</text></g>
<g id="K-P11"><ellipse cx="962" cy="756" rx="12" ry="8" class="a"/><line class="pa" x1="938" y1="763" x2="947" y2="755"/><text class="pk" x="919" y="777">P11</text><text class="tk" x="951" y="777">28</text><text class="rk" x="973" y="777">+//-</text><text class="tk" x="951" y="790">25</text><text class="rk" x="973" y="790">+//-</text><text class="tkm" x="960" y="803">Overweight</text><text class="tkm" x="960" y="820">Nephropathy</text><text class="tkm" x="960" y="838">Development delay</text><text class="tkm" x="960" y="855">Insulin</text></g>
<g id="K-III3"><rect x="1004" y="751" width="16" height="14" class="u"/><text class="n" x="1012" y="762">3</text></g>
<g id="K-III4"><rect x="1034" y="752" width="17" height="14" class="u"/><text class="tkm" x="1071" y="784">Neurological</text><text class="tkm" x="1071" y="799">problem</text></g>
</g>
</svg>
